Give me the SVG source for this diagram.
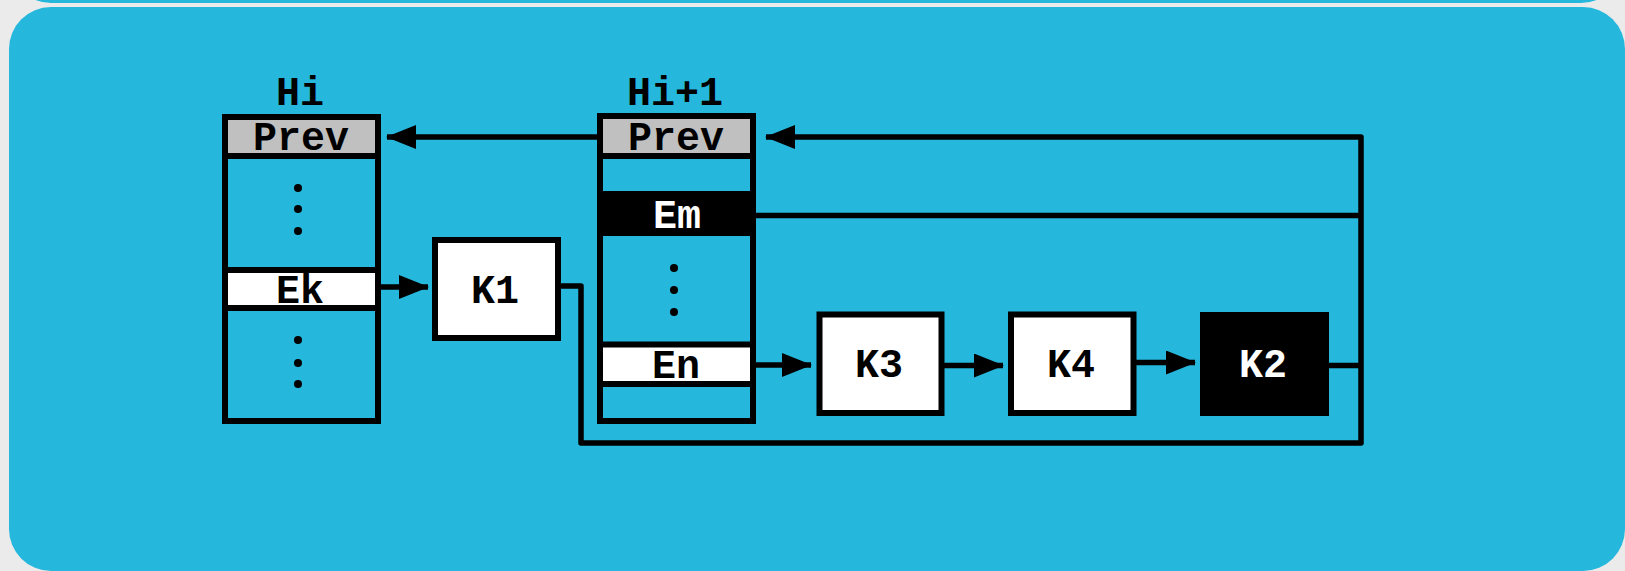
<svg xmlns="http://www.w3.org/2000/svg" width="1625" height="571" viewBox="0 0 1625 571">
<defs>
<style>
.t{font-family:"Liberation Mono","DejaVu Sans Mono",monospace;font-weight:bold;font-size:40px;text-anchor:middle;fill:#000}
.w{fill:#fff}
.box{fill:none;stroke:#000;stroke-width:6}
.kb{fill:#fff;stroke:#000;stroke-width:6}
.sep{stroke:#000;stroke-width:6}
.c{fill:none;stroke:#000;stroke-width:5.5;stroke-linejoin:round;stroke-linecap:butt}
.dot{fill:#000}
</style>
<marker id="ah" markerUnits="userSpaceOnUse" markerWidth="30" markerHeight="24" refX="29" refY="12" orient="auto">
<path d="M0,0 L30,12 L0,24 z" fill="#000"/>
</marker>
</defs>
<rect x="0" y="0" width="1625" height="571" fill="#ebebeb"/>
<rect x="9" y="-600" width="1614" height="603" rx="42" fill="#25b7dc"/>
<rect x="9" y="7" width="1616" height="564" rx="42" fill="#25b7dc"/>

<g id="connectors">
<path class="c" d="M597,137 H387" marker-end="url(#ah)"/>
<path class="c" d="M558,286 H581 V443 H1361 V137 H766" marker-end="url(#ah)"/>
<path class="c" d="M756,215.5 H1361"/>
<path class="c" d="M1329,365.5 H1361"/>
<path class="c" d="M378,287 H428" marker-end="url(#ah)"/>
<path class="c" d="M756,365 H811" marker-end="url(#ah)"/>
<path class="c" d="M944,365.5 H1003" marker-end="url(#ah)"/>
<path class="c" d="M1136,362.5 H1195" marker-end="url(#ah)"/>
</g>

<g id="Hi">
<text class="t" x="300" y="105">Hi</text>
<rect x="228" y="120" width="147" height="34" fill="#c0c0c0"/>
<rect x="228" y="273" width="147" height="32" fill="#fff"/>
<line class="sep" x1="225" y1="156" x2="378" y2="156"/>
<line class="sep" x1="225" y1="270" x2="378" y2="270"/>
<line class="sep" x1="225" y1="308" x2="378" y2="308"/>
<rect class="box" x="225" y="117" width="153" height="304"/>
<text class="t" x="301" y="150">Prev</text>
<text class="t" x="300" y="303">Ek</text>
<circle class="dot" cx="298" cy="188" r="4"/>
<circle class="dot" cx="298" cy="209" r="4"/>
<circle class="dot" cx="298" cy="231" r="4"/>
<circle class="dot" cx="298" cy="340" r="4"/>
<circle class="dot" cx="298" cy="363" r="4"/>
<circle class="dot" cx="298" cy="384" r="4"/>
</g>

<g id="Hi1">
<text class="t" x="675" y="105">Hi+1</text>
<rect x="603" y="119" width="147" height="35" fill="#c0c0c0"/>
<rect x="597" y="191" width="159" height="45" fill="#000"/>
<rect x="603" y="347" width="147" height="34" fill="#fff"/>
<line class="sep" x1="600" y1="156" x2="753" y2="156"/>
<line class="sep" x1="600" y1="344.5" x2="753" y2="344.5"/>
<line class="sep" x1="600" y1="384" x2="753" y2="384"/>
<rect class="box" x="600" y="116" width="153" height="305"/>
<text class="t" x="676" y="150">Prev</text>
<text class="t w" x="677" y="228">Em</text>
<text class="t" x="676" y="378">En</text>
<circle class="dot" cx="674" cy="268" r="4"/>
<circle class="dot" cx="674" cy="290" r="4"/>
<circle class="dot" cx="674" cy="312" r="4"/>
</g>

<g id="K1">
<rect class="kb" x="435" y="240" width="123" height="98"/>
<text class="t" x="495" y="303">K1</text>
</g>
<g id="K3">
<rect class="kb" x="819.5" y="314.5" width="122" height="98.5"/>
<text class="t" x="879" y="377">K3</text>
</g>
<g id="K4">
<rect class="kb" x="1011" y="314.5" width="122.5" height="98.5"/>
<text class="t" x="1071" y="377">K4</text>
</g>
<g id="K2">
<rect x="1200" y="312" width="129" height="104" fill="#000"/>
<text class="t w" x="1263" y="377">K2</text>
</g>
</svg>
